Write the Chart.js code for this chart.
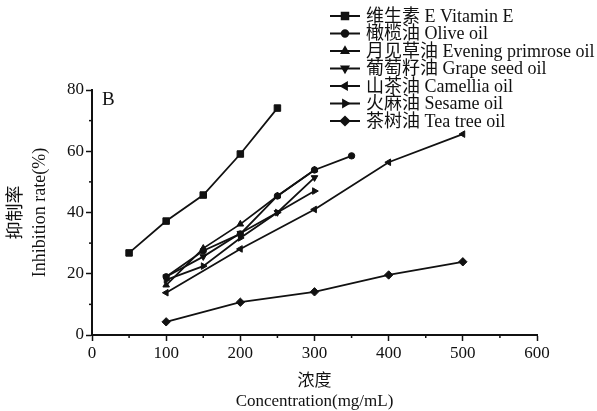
<!DOCTYPE html>
<html>
<head>
<meta charset="utf-8">
<script src="https://cdn.jsdelivr.net/npm/chart.js@4/dist/chart.umd.min.js"></script>
<style>
  html, body { margin: 0; padding: 0; background: #fff; }
  #wrap { width: 597px; height: 411px; }
</style>
</head>
<body>
<div id="wrap"><canvas id="chart" width="597" height="411"></canvas></div>
<script>
// --- DATA ---
const seriesNames = [
  "维生素 E Vitamin E",
  "橄榄油 Olive oil",
  "月见草油 Evening primrose oil",
  "葡萄籽油 Grape seed oil",
  "山茶油 Camellia oil",
  "火麻油 Sesame oil",
  "茶树油 Tea tree oil"
];
const vitaminEX = [50, 100, 150, 200, 250];
const vitaminEY = [26.8, 37.2, 45.7, 59.1, 74.1];
const oliveX = [100, 150, 200, 250, 300, 350];
const oliveY = [19.0, 27.5, 33.0, 45.4, 53.9, 58.5];
const primroseX = [100, 150, 200, 250, 300];
const primroseY = [16.3, 28.3, 36.2, 45.4, 53.9];
const grapeX = [100, 150, 200, 250, 300];
const grapeY = [19.0, 25.6, 33.2, 40.0, 51.4];
const camelliaX = [100, 200, 300, 400, 500];
const camelliaY = [13.8, 28.1, 41.0, 56.4, 65.6];
const sesameX = [100, 150, 200, 250, 300];
const sesameY = [18.0, 22.5, 31.7, 40.0, 47.0];
const teaTreeX = [100, 200, 300, 400, 500];
const teaTreeY = [4.3, 10.7, 14.1, 19.6, 23.9];
const xTicks = [0, 100, 200, 300, 400, 500, 600];
const yTicks = [0, 20, 40, 60, 80];

const FONT = '"Liberation Serif", "Noto Sans CJK SC", serif';

function toPoints(xs, ys) {
  return xs.map((x, i) => ({ x: x, y: ys[i] }));
}

function makeSet(idx, xs, ys, style, radius, rotation) {
  return {
    label: seriesNames[idx],
    data: toPoints(xs, ys),
    borderColor: "#111",
    backgroundColor: "#111",
    borderWidth: 1.8,
    pointStyle: style,
    rotation: rotation || 0,
    pointRadius: radius,
    pointBorderWidth: 1,
    tension: 0
  };
}

// minor ticks, panel letter and legend
const extrasPlugin = {
  id: "extras",
  afterDraw(chart) {
    const ctx = chart.ctx;
    const xs = chart.scales.x;
    const ys = chart.scales.y;
    const area = chart.chartArea;
    ctx.save();
    ctx.strokeStyle = "#111";
    ctx.lineWidth = 1.5;
    for (let v = 50; v < 600; v += 100) {
      const px = xs.getPixelForValue(v);
      ctx.beginPath();
      ctx.moveTo(px, area.bottom);
      ctx.lineTo(px, area.bottom + 3);
      ctx.stroke();
    }
    for (let v = 10; v < 80; v += 20) {
      const py = ys.getPixelForValue(v);
      ctx.beginPath();
      ctx.moveTo(area.left, py);
      ctx.lineTo(area.left - 3, py);
      ctx.stroke();
    }
    // panel letter
    ctx.fillStyle = "#111";
    ctx.font = "19px " + FONT;
    ctx.textBaseline = "top";
    ctx.fillText("B", area.left + 10, area.top + 1);

    // legend
    ctx.font = "18px " + FONT;
    ctx.textBaseline = "middle";
    chart.data.datasets.forEach((ds, i) => {
      const y = 16 + i * 17.5;
      ctx.lineWidth = 2;
      ctx.beginPath();
      ctx.moveTo(330, y);
      ctx.lineTo(360, y);
      ctx.stroke();
      Chart.helpers.drawPoint(ctx, {
        pointStyle: ds.pointStyle,
        rotation: ds.rotation,
        radius: ds.pointRadius,
        borderWidth: 1
      }, 345, y);
      ctx.fill();
      ctx.fillText(ds.label, 366, y + 1);
    });
    ctx.restore();
  }
};

new Chart(document.getElementById("chart"), {
  type: "line",
  data: {
    datasets: [
      makeSet(0, vitaminEX, vitaminEY, "rect", 4.6),
      makeSet(1, oliveX, oliveY, "circle", 3.2),
      makeSet(2, primroseX, primroseY, "triangle", 3.8),
      makeSet(3, grapeX, grapeY, "triangle", 3.8, 180),
      makeSet(4, camelliaX, camelliaY, "triangle", 3.8, 270),
      makeSet(5, sesameX, sesameY, "triangle", 3.8, 90),
      makeSet(6, teaTreeX, teaTreeY, "rectRot", 4.2)
    ]
  },
  options: {
    responsive: false,
    animation: false,
    layout: { padding: { top: 90, right: 60, left: 4, bottom: 0 } },
    plugins: {
      legend: { display: false },
      tooltip: { enabled: false }
    },
    scales: {
      x: {
        type: "linear",
        min: 0,
        max: 600,
        afterBuildTicks: (axis) => { axis.ticks = xTicks.map(v => ({ value: v })); },
        afterFit: (axis) => { axis.height = 76; },
        grid: { drawOnChartArea: false, tickLength: 6, tickColor: "#111", tickWidth: 1.5 },
        border: { color: "#111", width: 2 },
        ticks: { color: "#111", font: { family: FONT, size: 17 }, padding: 2, maxRotation: 0 },
        title: {
          display: true,
          text: ["浓度", "Concentration(mg/mL)"],
          color: "#111",
          font: { family: FONT, size: 17, lineHeight: 1.15 },
          padding: { top: 6, bottom: 0 }
        }
      },
      y: {
        min: 0,
        max: 80,
        afterBuildTicks: (axis) => { axis.ticks = yTicks.map(v => ({ value: v })); },
        afterFit: (axis) => { axis.width = 88; },
        grid: { drawOnChartArea: false, tickLength: 6, tickColor: "#111", tickWidth: 1.5 },
        border: { color: "#111", width: 2 },
        ticks: { color: "#111", font: { family: FONT, size: 17 }, padding: 2 },
        title: {
          display: true,
          text: ["抑制率", "Inhibition rate(%)"],
          color: "#111",
          font: { family: FONT, size: 18, lineHeight: 1.35 },
          padding: { top: 0, bottom: 12 }
        }
      }
    }
  },
  plugins: [extrasPlugin]
});
</script>
</body>
</html>
